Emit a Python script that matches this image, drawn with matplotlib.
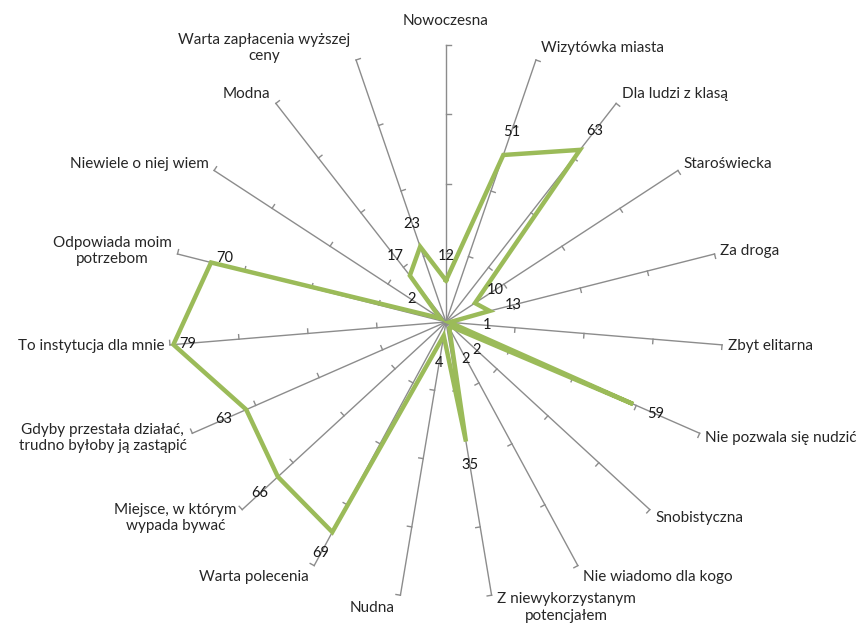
import matplotlib
matplotlib.use('Agg')
import matplotlib.pyplot as plt
import numpy as np

categories = ['Nowoczesna', 'Wizytówka miasta', 'Dla ludzi z klasą', 'Staroświecka',
              'Za droga', 'Zbyt elitarna', 'Nie pozwala się nudzić', 'Snobistyczna',
              'Nie wiadomo dla kogo', 'Z niewykorzystanym\npotencjałem', 'Nudna',
              'Warta polecenia', 'Miejsce, w którym\nwypada bywać',
              'Gdyby przestała działać,\ntrudno byłoby ją zastąpić',
              'To instytucja dla mnie', 'Odpowiada moim\npotrzebom',
              'Niewiele o niej wiem', 'Modna', 'Warta zapłacenia wyższej\nceny']
values = [12, 51, 63, 10, 13, 1, 59, 2, 2, 35, 4, 69, 66, 63, 79, 70, 2, 17, 23]
ticks = [20, 40, 60, 80]
rmax = 80

plt.rcParams['font.family'] = ['Lato', 'DejaVu Sans']

fig = plt.figure(figsize=(8.63, 6.25), dpi=100)
ax = fig.add_axes([0, 0, 1, 1])
# 277 px per 80 units, centre at pixel (446, 322)
s = 277 / 80
ax.set_xlim(-446 / s, (863 - 446) / s)
ax.set_ylim(-(625 - 322) / s, 322 / s)
ax.set_aspect('equal')
ax.axis('off')

n = len(categories)
theta = np.arange(n) * 2 * np.pi / n   # clockwise from north
ux = np.sin(theta)
uy = np.cos(theta)

grey = '#8c8c8c'
for i in range(n):
    ax.plot([0, rmax * ux[i]], [0, rmax * uy[i]], color=grey, lw=1, zorder=1)
    # ticks on the clockwise side
    px, py = uy[i], -ux[i]
    for t in ticks:
        x0, y0 = t * ux[i], t * uy[i]
        ax.plot([x0, x0 + 1.3 * px], [y0, y0 + 1.3 * py], color=grey, lw=1, zorder=1)

v = np.array(values, dtype=float)
xs = np.append(v * ux, v[0] * ux[0])
ys = np.append(v * uy, v[0] * uy[0])
ax.plot(xs, ys, color='#9bbb59', lw=3.2, solid_joinstyle='miter', zorder=3)

# data labels
for i in range(n):
    r = max(values[i] + 7, 12)
    if r > 76:
        # near the rim: put the label inside, next to the point
        lx = values[i] * ux[i] + 4
        ly = values[i] * uy[i] + 3 * uy[i] + 0.5
    else:
        lx, ly = r * ux[i], r * uy[i]
    ax.text(lx, ly, str(values[i]), ha='center', va='center', fontsize=10.5,
            color='#1a1a1a', zorder=4)

# category labels
for i in range(n):
    ex, ey = rmax * ux[i], rmax * uy[i]
    if abs(ux[i]) < 0.05:
        ax.annotate(categories[i], (ex, ey), xytext=(0, 12), textcoords='offset points',
                    ha='center', va='bottom', fontsize=11, color='#262626')
        continue
    ha = 'left' if ux[i] > 0 else 'right'
    dx = 4 if ux[i] > 0 else -4
    dy = 9 * uy[i]
    ax.annotate(categories[i], (ex, ey), xytext=(dx, dy), textcoords='offset points',
                ha=ha, va='center', multialignment='center', fontsize=11,
                color='#262626')

fig.savefig('out.png', dpi=100)
